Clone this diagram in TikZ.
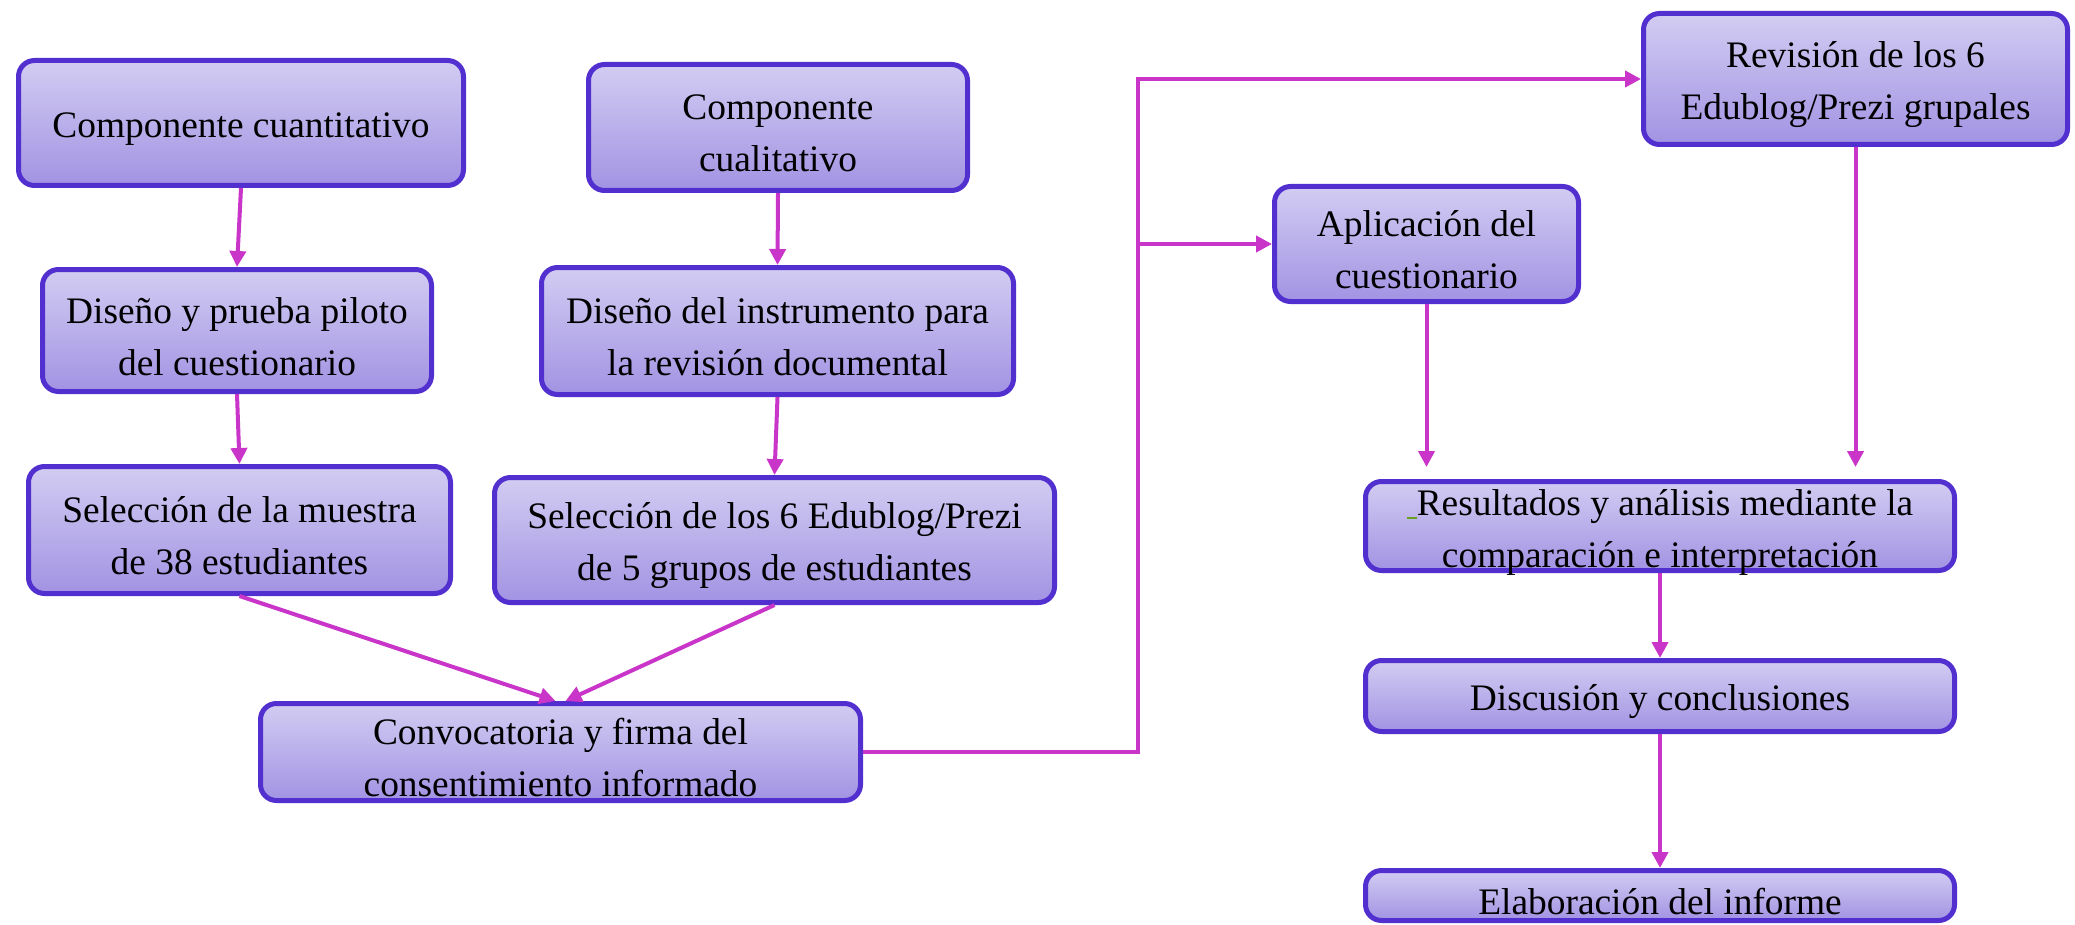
\documentclass[tikz,border=0pt]{standalone}
\usepackage{fontspec}
\setmainfont{Liberation Serif}
\usetikzlibrary{arrows.meta}
\definecolor{bordc}{HTML}{5230D0}
\definecolor{topc}{HTML}{D2CCF2}
\definecolor{botc}{HTML}{A293E3}
\definecolor{arrc}{HTML}{C934C9}
\definecolor{markc}{HTML}{6AA01E}
\tikzset{
  box/.style={draw=bordc, line width=2.5pt, rounded corners=8pt, top color=topc, bottom color=botc,
    inner sep=0pt},
  txt/.style={align=center, inner sep=0pt, yshift=-3pt, font=\fontsize{18.7}{26}\selectfont},
  arr/.style={draw=arrc, line width=2pt, -{Triangle[length=8pt,width=8pt]}}
}
\begin{document}
\begin{tikzpicture}[x=0.5pt,y=-0.5pt]
\useasboundingbox (0,0) rectangle (2075,925);
\node[box, minimum width=222.5pt, minimum height=62.5pt] (b1) at (241,123) {};
\node[txt] (t1) at (b1.center) {Componente cuantitativo};
\node[box, minimum width=189.5pt, minimum height=63pt] (b2) at (778,127.5) {};
\node[txt] (t2) at (b2.center) {Componente\\cualitativo};
\node[box, minimum width=194.5pt, minimum height=61pt] (b3) at (237,330.5) {};
\node[txt] (t3) at (b3.center) {Diseño y prueba piloto\\del cuestionario};
\node[box, minimum width=236pt, minimum height=63.5pt] (b4) at (777.5,331) {};
\node[txt] (t4) at (b4.center) {Diseño del instrumento para\\la revisión documental};
\node[box, minimum width=211pt, minimum height=63.5pt] (b5) at (239.5,530) {};
\node[txt] (t5) at (b5.center) {Selección de la muestra\\de 38 estudiantes};
\node[box, minimum width=280pt, minimum height=62.5pt] (b6) at (774.5,540) {};
\node[txt] (t6) at (b6.center) {Selección de los 6 Edublog/Prezi\\de 5 grupos de estudiantes};
\node[box, minimum width=300pt, minimum height=48.5pt] (b7) at (560.5,752) {};
\node[txt] (t7) at (b7.center) {Convocatoria y firma del\\consentimiento informado};
\node[box, minimum width=152pt, minimum height=57.5pt] (b8) at (1426.5,244) {};
\node[txt] (t8) at (b8.center) {Aplicación del\\cuestionario};
\node[box, minimum width=212pt, minimum height=65.5pt] (b9) at (1855.5,79) {};
\node[txt] (t9) at (b9.center) {Revisión de los 6\\Edublog/Prezi grupales};
\node[box, minimum width=294.5pt, minimum height=44.5pt] (b10) at (1660,526) {};
\node[txt] (t10) at (b10.center) {{\color{markc}\rule[-2pt]{5pt}{1.2pt}}Resultados y análisis mediante la\\comparación e interpretación};
\node[box, minimum width=294.5pt, minimum height=35.5pt] (b11) at (1660,696) {};
\node[txt] (t11) at (b11.center) {Discusión y conclusiones};
\node[box, minimum width=294.5pt, minimum height=25pt] (b12) at (1660,895.5) {};
\node[txt] (t12) at (b12.center) {Elaboración del informe};
\coordinate (cv) at (1138,0);
\draw[arr] (b1.south) -- (b3.north);
\draw[arr] (b3.south) -- (b5.north);
\draw[arr] (b2.south) -- (b4.north);
\draw[arr] (b4.south) -- (b6.north);
\draw[arr] (b5.south) -- ([xshift=-2.5pt]b7.north);
\draw[arr] (b6.south) -- ([xshift=2.5pt]b7.north);
\draw[arr] (b7.east) -| (cv |- b9.west) -- (b9.west);
\draw[arr] (cv |- b8.west) -- (b8.west);
\draw[arr, shorten >=6pt] (b8.south) -- (b8.south |- b10.north);
\draw[arr, shorten >=6pt] (b9.south) -- (b9.south |- b10.north);
\draw[arr] (b10.south) -- (b11.north);
\draw[arr] (b11.south) -- (b12.north);
\end{tikzpicture}
\end{document}
